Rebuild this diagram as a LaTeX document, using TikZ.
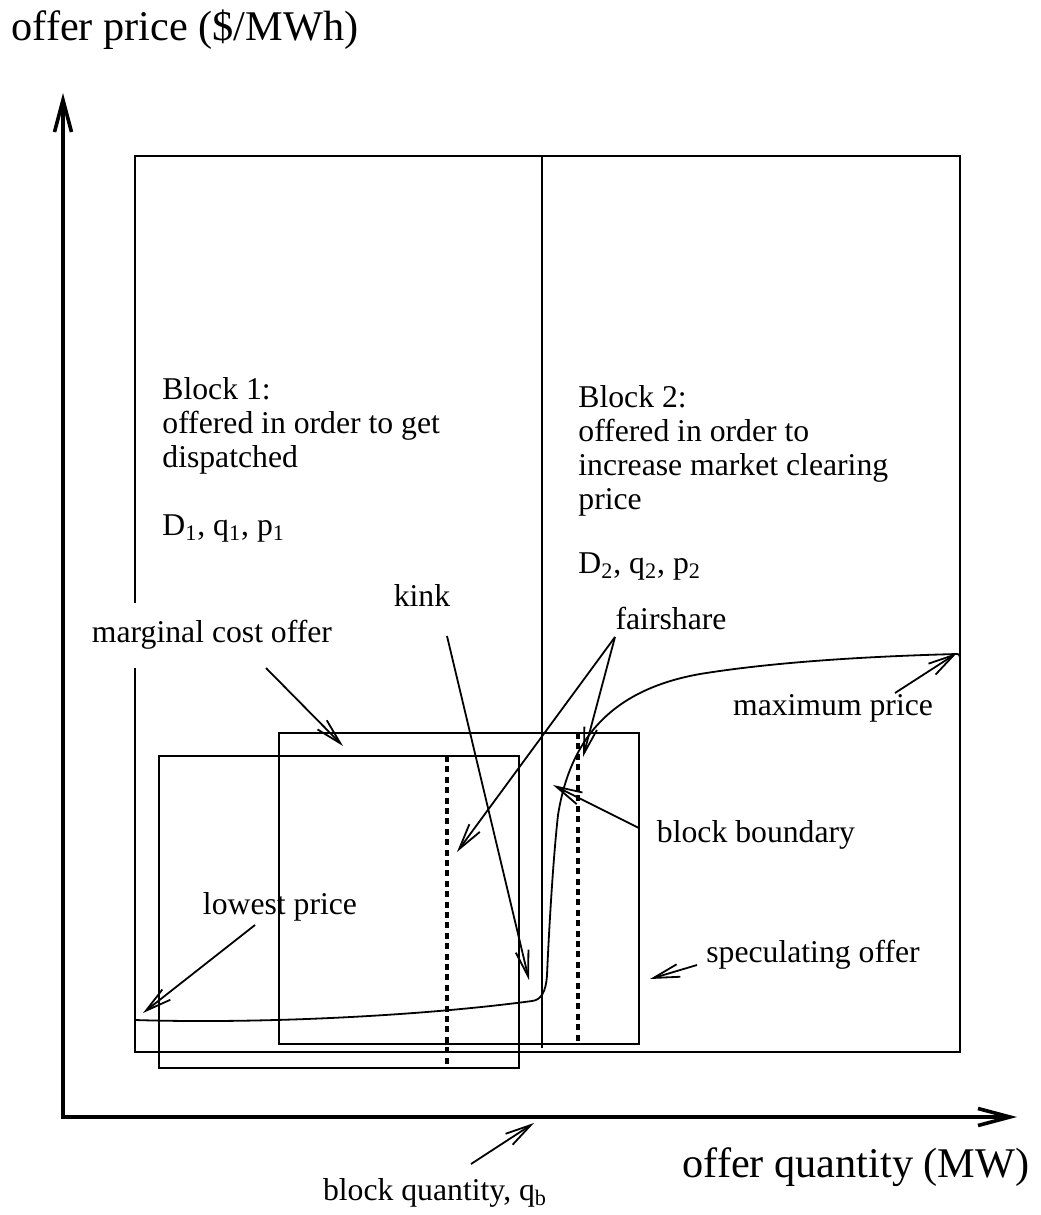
\documentclass[tikz,border=0pt]{standalone}
\usepackage{fontspec}
\setmainfont{Liberation Serif}
\usetikzlibrary{arrows.meta}
\begin{document}
\begin{tikzpicture}[x=0.5pt,y=-0.5pt,
  lbl/.style={font=\fontsize{15.85}{17}\selectfont, inner sep=0pt},
  big/.style={font=\fontsize{21.15}{24}\selectfont, inner sep=0pt},
  frame/.style={line width=0.9pt},
  dots/.style={line width=2.1pt, dash pattern=on 3pt off 2.2pt},
  ptr/.style={line width=0.9pt, -{Straight Barb[length=13pt,width=6.5pt,line width=0.9pt]}},
  axis/.style={line width=1.8pt, -{Straight Barb[length=16pt,width=8.5pt,line width=1.8pt]}},
  curve/.style={line width=0.9pt}]
\useasboundingbox (0,0) rectangle (1040,1215);
% boxes
\draw[frame] (135,603) -- (135,156) -- (960,156) -- (960,1052) -- (135,1052) -- (135,668);
\draw[frame] (542,156) -- (542,1048);
\draw[frame] (279,733) rectangle (639,1044);
\draw[frame] (159,756) rectangle (519,1068);
\draw[dots] (447,756) -- (447,1067);
\draw[dots] (578,733) -- (578,1043);
% offer curve
\draw[curve] (135,1020) .. controls (260,1024) and (420,1016) .. (532,1001)
  .. controls (541,1000) and (546,992) .. (547,975)
  .. controls (549,930) and (553,860) .. (558,815)
  .. controls (570,740) and (610,690) .. (700,674)
  .. controls (780,661) and (880,656) .. (957,654)
  .. controls (959,654) .. (960,658);
% axes
\coordinate (orig) at (63,1117);
\coordinate (ytip) at (63,93);
\coordinate (xtip) at (1017,1117);
\draw[axis] (63,1119) -- (ytip);
\draw[axis] (61,1117) -- (xtip);
% axis labels
\node[big] (ylab) at (185,30) {offer price (\$/MWh)};
\node[big] (xlab) at (856,1167) {offer quantity (MW)};
% block texts
\node[lbl, anchor=base west] (b1a) at (162,399) {Block 1:};
\node[lbl, anchor=base west] (b1b) at (162,433) {offered in order to get};
\node[lbl, anchor=base west] (b1c) at (162,467) {dispatched};
\node[lbl, anchor=base west] (b1d) at (162,535) {D\textsubscript{1}, q\textsubscript{1}, p\textsubscript{1}};
\node[lbl, anchor=base west] (b2a) at (578,407) {Block 2:};
\node[lbl, anchor=base west] (b2b) at (578,441) {offered in order to};
\node[lbl, anchor=base west] (b2c) at (578,475) {increase market clearing};
\node[lbl, anchor=base west] (b2d) at (578,509) {price};
\node[lbl, anchor=base west] (b2e) at (578,573) {D\textsubscript{2}, q\textsubscript{2}, p\textsubscript{2}};
% labels
\node[lbl] (kink) at (422,595) {kink};
\node[lbl] (mco) at (212,635) {marginal cost offer};
\node[lbl] (fair) at (671,618) {fairshare};
\node[lbl] (maxp) at (833,708) {maximum price};
\node[lbl] (bbnd) at (756,835) {block boundary};
\node[lbl] (lowp) at (280,907) {lowest price};
\node[lbl] (spec) at (813,955) {speculating offer};
\node[lbl] (bq) at (435,1193) {block quantity, q\textsubscript{b}};
% arrow end points
\coordinate (mcoS) at (266,668);  \coordinate (mcoT) at (343,746);
\coordinate (kinkS) at (447,636); \coordinate (kinkT) at (529,980);
\coordinate (fairS) at (615,637); \coordinate (fairT1) at (457,852);
\coordinate (fairT2) at (583,757);
\coordinate (maxS) at (895,693);  \coordinate (maxT) at (957,653);
\coordinate (bbS) at (639,828);   \coordinate (bbT) at (553,785);
\coordinate (lowS) at (255,925);  \coordinate (lowT) at (143,1013);
\coordinate (specS) at (697,965); \coordinate (specT) at (650,979);
\coordinate (bqS) at (471,1164);  \coordinate (bqT) at (534,1123);
% arrows
\draw[ptr] (mcoS) -- (mcoT);
\draw[ptr] (kinkS) -- (kinkT);
\draw[ptr] (fairS) -- (fairT1);
\draw[ptr] (fairS) -- (fairT2);
\draw[ptr] (maxS) -- (maxT);
\draw[ptr] (bbS) -- (bbT);
\draw[ptr] (lowS) -- (lowT);
\draw[ptr] (specS) -- (specT);
\draw[ptr] (bqS) -- (bqT);
\end{tikzpicture}
\end{document}
